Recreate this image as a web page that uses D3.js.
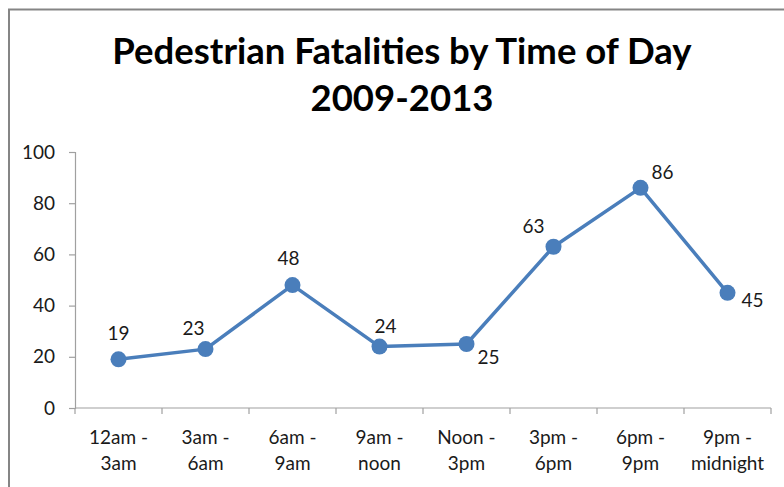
<!DOCTYPE html>
<html>
<head>
<meta charset="utf-8">
<script src="https://cdn.jsdelivr.net/npm/d3@7"></script>
<style>
  html, body { margin: 0; padding: 0; background: #fff; }
  svg { display: block; font-family: Lato, "Open Sans", sans-serif; }
</style>
</head>
<body>
<svg id="chart" width="784" height="487"></svg>
<script>
// Pedestrian fatalities per 3-hour window, 2009-2013
const categories = [
  ["12am -", "3am"], ["3am -", "6am"], ["6am -", "9am"], ["9am -", "noon"],
  ["Noon -", "3pm"], ["3pm -", "6pm"], ["6pm -", "9pm"], ["9pm -", "midnight"]
];
const fatalities = [19, 23, 48, 24, 25, 63, 86, 45];
const yTicks = [0, 20, 40, 60, 80, 100];
const titleLines = ["Pedestrian Fatalities by Time of Day", "2009-2013"];

// label nudges relative to each marker, [dx, dy] in pixels
const labelNudges = [[0, -19], [-12, -14], [-4, -20], [6, -14], [22, 20], [-20, -14], [22, -9], [25, 14]];

const svg = d3.select("#chart");
const axisColor = "#a0a0a0";
const lineColor = "#4a7ebb";
const textColor = "#1a1a1a";

// outer frame of the chart (runs off the right and bottom edges)
svg.append("path")
  .attr("d", "M9,492 L9,9.5 L790,9.5")
  .attr("fill", "none")
  .attr("stroke", "#858585")
  .attr("stroke-width", 2);

// title
svg.append("g").selectAll("text")
  .data(titleLines)
  .join("text")
  .attr("x", 402)
  .attr("y", (d, i) => 64 + i * 47)
  .attr("text-anchor", "middle")
  .attr("font-weight", "bold")
  .attr("font-size", 36.5)
  .attr("fill", "#000")
  .text(d => d);

const x = d3.scaleBand().domain(d3.range(categories.length)).range([75, 771]).padding(0);
const y = d3.scaleLinear().domain([0, 100]).range([408, 152]);

// y axis
const yAxis = svg.append("g")
  .attr("transform", "translate(75,0)")
  .call(d3.axisLeft(y).tickValues(yTicks).tickSize(6).tickPadding(14));
yAxis.select(".domain").attr("stroke", axisColor).attr("stroke-width", 1.2);
yAxis.selectAll(".tick line").attr("stroke", axisColor).attr("stroke-width", 1.2);
yAxis.selectAll(".tick text")
  .attr("font-size", 19)
  .attr("font-family", "Lato, sans-serif")
  .attr("fill", textColor);

// x axis: line with ticks on band boundaries
const xg = svg.append("g");
xg.append("line")
  .attr("x1", x.range()[0]).attr("x2", x.range()[1])
  .attr("y1", y(0)).attr("y2", y(0))
  .attr("stroke", axisColor).attr("stroke-width", 1.2);
const boundaries = d3.range(categories.length + 1).map(i => i < categories.length ? x(i) : x.range()[1]);
xg.selectAll("line.tick")
  .data(boundaries)
  .join("line")
  .attr("class", "tick")
  .attr("x1", d => d).attr("x2", d => d)
  .attr("y1", y(0)).attr("y2", y(0) + 6)
  .attr("stroke", axisColor).attr("stroke-width", 1.2);

const catLabels = xg.selectAll("text.cat")
  .data(categories)
  .join("text")
  .attr("class", "cat")
  .attr("text-anchor", "middle")
  .attr("font-size", 19)
  .attr("fill", textColor);
catLabels.selectAll("tspan")
  .data((d, i) => d.map(line => ({ line, i })))
  .join("tspan")
  .attr("x", d => x(d.i) + x.bandwidth() / 2)
  .attr("y", (d, j) => 444 + j * 26)
  .text(d => d.line);

// series
const cx = i => x(i) + x.bandwidth() / 2;
svg.append("path")
  .datum(fatalities)
  .attr("fill", "none")
  .attr("stroke", lineColor)
  .attr("stroke-width", 3.5)
  .attr("stroke-linejoin", "round")
  .attr("d", d3.line().x((d, i) => cx(i)).y(d => y(d)));

svg.append("g").selectAll("circle")
  .data(fatalities)
  .join("circle")
  .attr("cx", (d, i) => cx(i))
  .attr("cy", d => y(d))
  .attr("r", 8)
  .attr("fill", lineColor);

// value labels
svg.append("g").selectAll("text")
  .data(fatalities)
  .join("text")
  .attr("x", (d, i) => cx(i) + labelNudges[i][0])
  .attr("y", (d, i) => y(d) + labelNudges[i][1])
  .attr("text-anchor", "middle")
  .attr("font-size", 19)
  .attr("fill", textColor)
  .text(d => d);
</script>
</body>
</html>
